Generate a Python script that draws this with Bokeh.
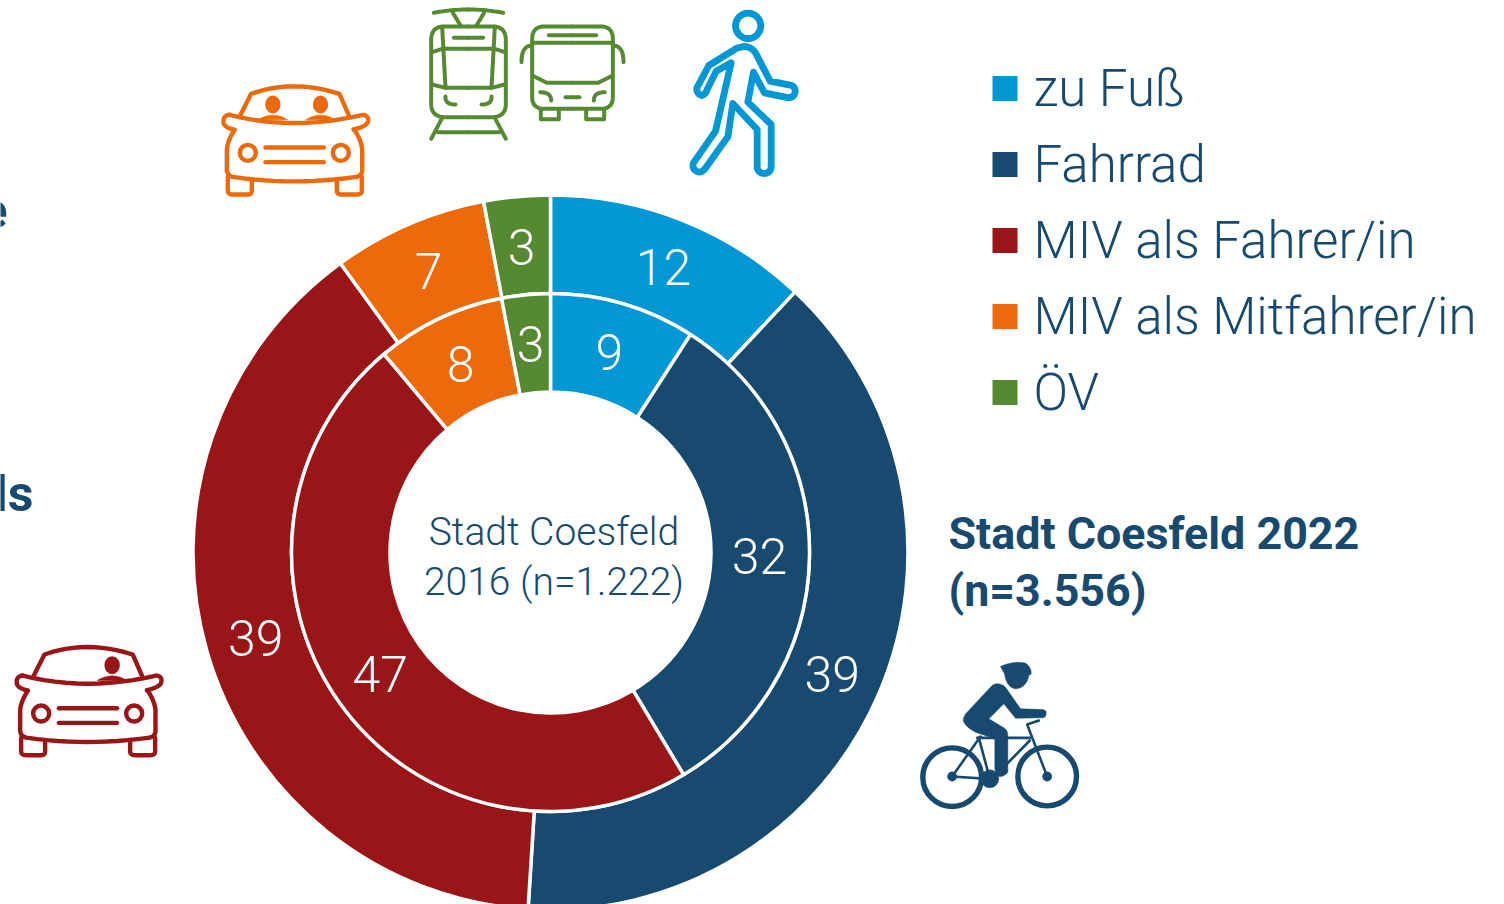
import math
from bokeh.plotting import figure
from bokeh.models import Range1d
from bokeh.core.properties import value
from bokeh.embed import file_html
from bokeh.resources import INLINE

categories = ["zu Fuß", "Fahrrad", "MIV als Fahrer/in", "MIV als Mitfahrer/in", "ÖV"]
values_2022 = [12, 39, 39, 7, 3]
values_2016 = [9, 32, 47, 8, 3]
colors = ["#0098D4", "#184A70", "#9A1518", "#EC6A0C", "#568A32"]
title_2022 = ["Stadt Coesfeld 2022", "(n=3.556)"]
title_2016 = ["Stadt Coesfeld", "2016 (n=1.222)"]

NAVY = "#184A70"
FONT = "Roboto Light"
W, H = 1504, 904
CX, CY = 550, 904 - 552


def Y(py):
    return 904 - py


p = figure(width=W, height=H, x_range=Range1d(0, 1504), y_range=Range1d(0, 904),
           x_axis_type=None, y_axis_type=None, toolbar_location=None,
           output_backend="svg", min_border=0, outline_line_color=None)
p.grid.visible = False


def ring(vals, r0, r1, rlabel):
    total = sum(vals)
    cum = 0
    starts, ends, mids = [], [], []
    for v in vals:
        a0 = cum / total
        cum += v
        a1 = cum / total
        starts.append(math.pi / 2 - 2 * math.pi * a1)
        ends.append(math.pi / 2 - 2 * math.pi * a0)
        mids.append(math.pi / 2 - math.pi * (a0 + a1))
    p.annular_wedge([CX] * len(vals), [CY] * len(vals), inner_radius=r0, outer_radius=r1,
                    start_angle=starts, end_angle=ends, fill_color=colors,
                    line_color="white", line_width=3.5)
    p.text([CX + rlabel * math.cos(m) for m in mids],
           [CY + rlabel * math.sin(m) for m in mids],
           text=[str(v) for v in vals], text_color="white", text_font=value(FONT),
           text_font_size="50px", text_align="center", text_baseline="middle")


ring(values_2022, 259, 357.5, 307)
ring(values_2016, 160.5, 259, 209)

# centre title
p.text([553.5, 553.5], [Y(531), Y(581)], text=title_2016, text_color=NAVY, text_font=value(FONT),
       text_font_size="39px", text_align="center", text_baseline="middle")

# bold title
p.text([948, 948], [Y(533), Y(590)], text=title_2022, text_color=NAVY, text_font=value("Roboto"),
       text_font_style="bold", text_font_size="44.8px", text_align="left", text_baseline="middle")

# cut-off headings at the left edge
p.text([7, 33], [Y(209), Y(493)], text=["e", "ls"], text_color=NAVY, text_font=value("Roboto"),
       text_font_style="bold", text_font_size="50px", text_align="right", text_baseline="middle")

# legend
leg_y = [88, 164, 240, 316, 392]
p.rect([1004.5] * 5, [Y(v) for v in leg_y], width=25, height=25, fill_color=colors, line_color=None)
p.text([1033] * 5, [Y(v) for v in leg_y], text=categories, text_color=NAVY, text_font=value(FONT),
       text_font_size="51px", text_align="left", text_baseline="middle")


# ---- icons, traced in 3x crop coordinates ----
def path(*segs):
    pts = [segs[0]]
    for s in segs[1:]:
        if len(s) == 2:
            pts.append(s)
        else:
            x0, y0 = pts[-1]
            for i in range(1, 13):
                t = i / 12
                pts.append(((1 - t) ** 2 * x0 + 2 * t * (1 - t) * s[0] + t * t * s[2],
                            (1 - t) ** 2 * y0 + 2 * t * (1 - t) * s[1] + t * t * s[3]))
    return pts


def strokes(paths, ox, oy, color, width):
    xs = [[ox + x / 3 for x, _ in q] for q in paths]
    ys = [[Y(oy + y / 3) for _, y in q] for q in paths]
    p.multi_line(xs, ys, line_color=color, line_width=width, line_cap="round", line_join="round")


def fill(paths, ox, oy, color):
    xs = [[ox + x / 3 for x, _ in q] for q in paths]
    ys = [[Y(oy + y / 3) for _, y in q] for q in paths]
    p.patches(xs, ys, fill_color=color, line_color=color, line_width=0.5)


def rings(centres, r, ox, oy, color, width, fill_color=None):
    p.circle([ox + c[0] / 3 for c in centres], [Y(oy + c[1] / 3) for c in centres], radius=r / 3,
             fill_color=fill_color, line_color=color, line_width=width)


def car(ox, oy, color, heads):
    strokes([
        path((122, 345), (155, 280), (280, 235, 420, 280), (448, 345)),
        path((90, 343), (280, 392, 490, 343), (510, 345, 505, 365), (500, 378, 462, 387)),
        path((90, 343), (70, 345, 72, 365), (72, 380, 105, 388)),
        path((105, 388), (82, 425, 82, 450), (82, 510), (85, 528, 105, 530), (280, 555, 465, 530),
             (487, 528, 488, 510), (488, 450), (488, 425, 465, 388)),
        path((85, 530), (85, 570), (85, 582, 100, 582), (145, 582), (157, 582, 157, 570), (157, 540)),
        path((412, 540), (412, 570), (412, 582, 427, 582), (472, 582), (487, 582, 487, 570), (487, 530)),
        path((198, 441), (373, 441)),
        path((198, 485), (373, 485)),
    ], ox, oy, color, 4.4)
    rings([(145, 457), (424, 457)], 24, ox, oy, color, 4.4)
    for hx in heads:
        p.ellipse([ox + hx / 3], [Y(oy + 312 / 3)], width=46 / 3, height=54 / 3, fill_color=color, line_color=None)
        fill([path((hx - 45, 358), (hx, 330, hx + 45, 358))], ox, oy, color)


car(199, 0, colors[3], [220, 363])
car(199 - 206.7, 560.7, colors[2], [358])


def mirrored(q, axis):
    return [(2 * axis - x, y) for x, y in q]


# tram
TA = 804
tram_half = [
    path((700, 37), (752, 27, 804, 27)),
    path((757, 37), (780, 75)),
    path((804, 78), (730, 78), (692, 78, 692, 120), (692, 310), (692, 350, 735, 350), (804, 350)),
    path((725, 80), (735, 262), (804, 262)),
    path((695, 155), (725, 145), (804, 145)),
    path((695, 252), (735, 262)),
    path((760, 112), (804, 112)),
    path((735, 288), (733, 312, 765, 312)),
    path((725, 352), (692, 415)),
    path((712, 395), (804, 395)),
]
strokes(tram_half + [mirrored(q, TA) for q in tram_half], 200, 0, colors[4], 4)

# bus
BA = 219
bus_half = [
    path((219, 78), (135, 78), (98, 78, 98, 115), (98, 290), (98, 325, 135, 325), (219, 325)),
    path((98, 127), (219, 127)),
    path((148, 104), (219, 104)),
    path((66, 185), (66, 135, 98, 135)),
    path((98, 225), (142, 247), (219, 247)),
    path((122, 275), (155, 275, 155, 300)),
    path((198, 290), (219, 290)),
    path((124, 328), (124, 356), (178, 356), (178, 328)),
]
strokes(bus_half + [mirrored(q, BA) for q in bus_half], 499, 0, colors[4], 4)

# walker
rings([(746, 76)], 38, 499, 0, colors[0], 6.8)
strokes([path((733, 141), (712, 146), (628, 198), (592, 265), (590, 282, 607, 288), (618, 285, 622, 272),
              (650, 215), (695, 190), (648, 395), (582, 490), (575, 512, 600, 518), (612, 516, 622, 500),
              (685, 412), (700, 312), (773, 390), (773, 505), (778, 522, 795, 522), (815, 520, 815, 500),
              (815, 375), (745, 308), (762, 218), (795, 280), (868, 295), (888, 292, 887, 272), (885, 258, 868, 256),
              (812, 245), (768, 160), (755, 141, 733, 141))], 499, -1, colors[0], 6.8)

# cyclist
rings([(155, 380), (440, 378)], 88, 900, 650, colors[1], 5.4)
rings([(155, 378), (440, 378)], 14, 900, 650, colors[1], 0.5, colors[1])
rings([(268, 385)], 27, 900, 650, colors[1], 0.5, colors[1])
strokes([
    path((155, 378), (240, 258)),
    path((155, 378), (262, 385)),
    path((235, 262), (268, 385)),
    path((230, 262), (388, 262)),
    path((388, 270), (295, 365)),
    path((440, 378), (380, 222), (415, 210)),
], 900, 650, colors[1], 2.6)
fill([
    path((290, 100), (305, 100, 315, 110), (360, 175), (425, 177), (437, 178, 437, 187), (437, 200, 428, 202),
         (345, 203), (310, 160), (265, 205), (310, 232), (322, 240, 322, 255), (322, 365), (310, 380, 295, 378),
         (285, 372, 283, 355), (283, 265), (225, 245), (195, 230, 188, 210), (190, 195, 200, 185), (270, 110),
         (278, 100, 290, 100)),
    path((300, 48), (340, 30, 375, 38), (393, 50, 392, 70), (385, 75), (378, 112, 345, 115), (318, 110, 312, 70),
         (300, 48)),
], 900, 650, colors[1])

open("out.html", "w").write(file_html(p, INLINE))
